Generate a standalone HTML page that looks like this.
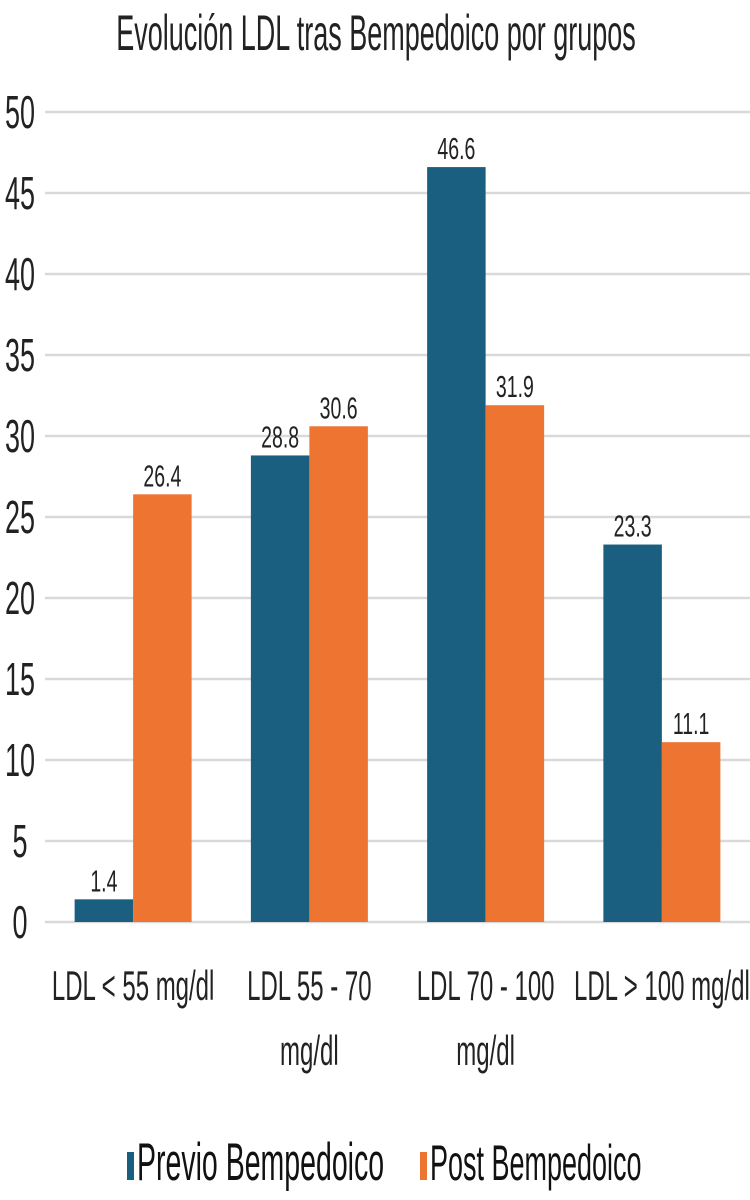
<!DOCTYPE html>
<html><head><meta charset="utf-8"><style>
html,body{margin:0;padding:0;background:#fff;}
svg{display:block;font-family:"Liberation Sans",sans-serif;}
</style></head><body>
<svg id="chart" width="750" height="1200">
<g id="grid"></g>
<g id="yticks"></g>
<g id="bars"></g>
<g id="xlabels"></g>
<g transform="translate(376,50) scale(1,1.85)"><text x="0" y="0" text-anchor="middle" font-size="27" fill="#222">Evolución LDL tras Bempedoico por grupos</text></g>
<g>
<rect x="127" y="1152" width="7" height="28" fill="#1b5f80"/>
<g transform="translate(137,1180) scale(1,1.85)"><text font-size="28.5" fill="#111">Previo Bempedoico</text></g>
<rect x="420" y="1152" width="7" height="28" fill="#ed7431"/>
<g transform="translate(430,1180) scale(1,1.85)"><text font-size="27" fill="#111">Post Bempedoico</text></g>
</g>
</svg>
<script>
const categories=[["LDL < 55 mg/dl"],["LDL 55 - 70","mg/dl"],["LDL 70 - 100","mg/dl"],["LDL > 100 mg/dl"]];
const previo=[1.4,28.8,46.6,23.3];
const post=[26.4,30.6,31.9,11.1];
const yTicks=[0,5,10,15,20,25,30,35,40,45,50];
const NS="http://www.w3.org/2000/svg";
const x0=45,x1=750,yTop=112,yBot=922,yMax=50;
const bandW=(x1-x0)/categories.length;
const barW=58.5;
function y(v){return yBot-(v/yMax)*(yBot-yTop);}
function bx(i){return x0+bandW*i+bandW/2;}
function mk(tag,attrs,parent){const e=document.createElementNS(NS,tag);for(const k in attrs)e.setAttribute(k,attrs[k]);parent.appendChild(e);return e;}
function label(parent,x,yy,txt,fs,sy,anchor){const g=mk('g',{transform:`translate(${x},${yy}) scale(1,${sy})`},parent);const t=mk('text',{x:0,y:0,'font-size':fs,'text-anchor':anchor,fill:'#222'},g);t.textContent=txt;return g;}
const grid=document.getElementById('grid'),yt=document.getElementById('yticks'),bars=document.getElementById('bars'),xl=document.getElementById('xlabels');
yTicks.forEach(v=>{
const l=mk('line',{x1:x0,x2:x1,y1:y(v),y2:y(v),stroke:'#d9d9d9','stroke-width':2.5},grid);


const g=label(yt,20,y(v)+16,String(v),27,1.7,'middle');


});
categories.forEach((c,i)=>{
const cx=bx(i);
[[previo[i],'#1b5f80',cx-barW,'bar-previo'],[post[i],'#ed7431',cx,'bar-post']].forEach(([v,col,xx,nm])=>{
const r=mk('rect',{x:xx,y:y(v),width:barW,height:yBot-y(v),fill:col},bars);


const g=label(bars,xx+barW/2,y(v)-8,v.toFixed(1),19.5,1.55,'middle');


});
c.forEach((line,k)=>{
const g=label(xl,cx,1000+k*65,line,24,1.75,'middle');


});
});
</script>
</body></html>
